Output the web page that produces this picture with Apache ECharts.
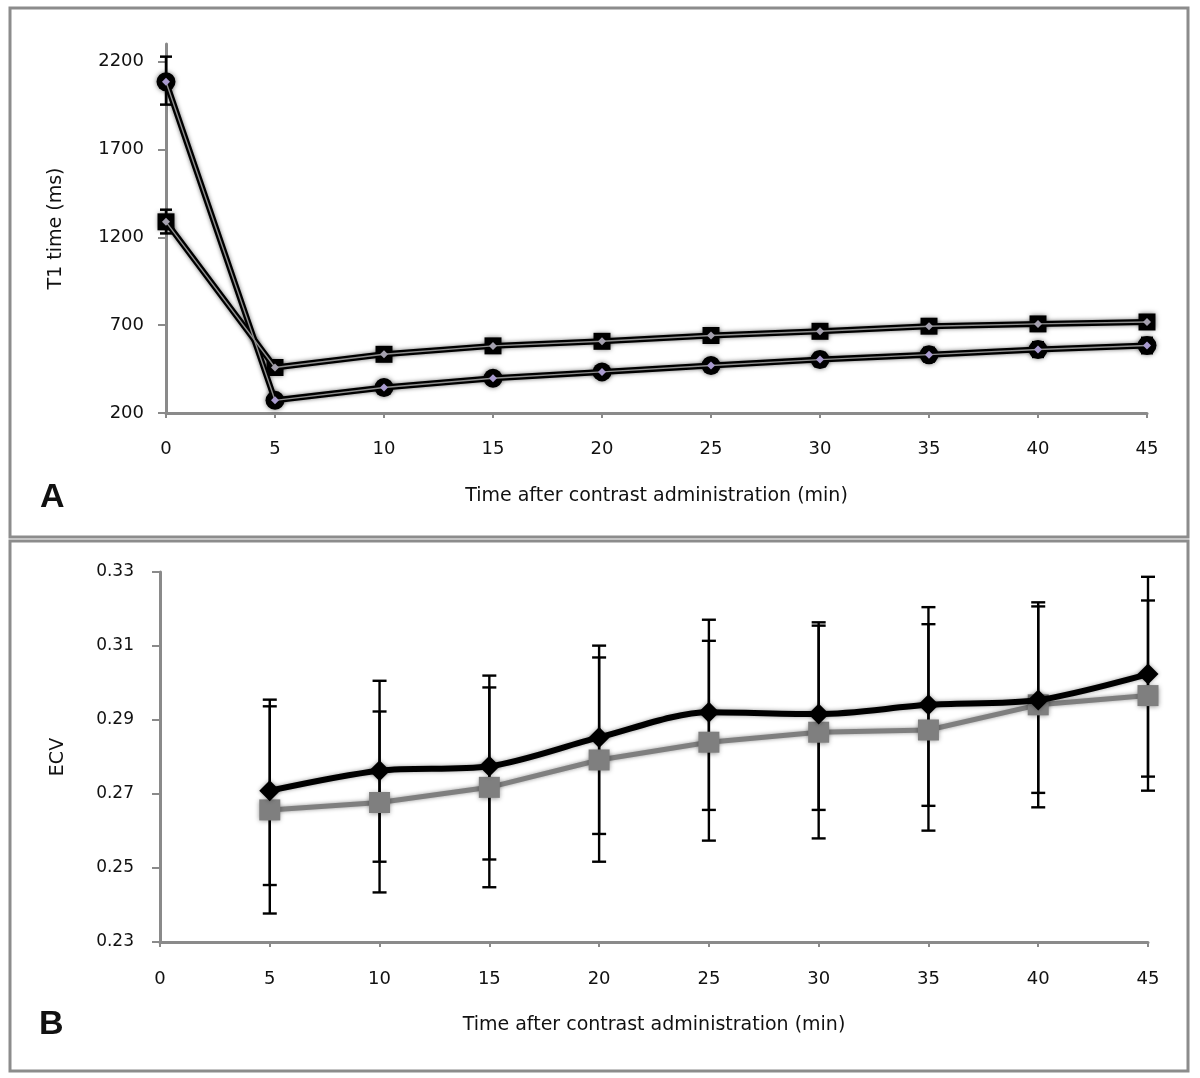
<!DOCTYPE html>
<html><head><meta charset="utf-8">
<script src="https://cdn.jsdelivr.net/npm/echarts@6/dist/echarts.min.js"></script>
<style>html,body{margin:0;padding:0;background:#fff}#c{width:1200px;height:1078px}</style>
</head><body><div id="c"></div>
<script>
// Panel A: T1 time (ms)
const timeA = [0, 5, 10, 15, 20, 25, 30, 35, 40, 45];
const t1Blood = [2085, 272, 345, 398, 434, 470, 504, 532, 561, 584];
const t1BloodLow = [1955, 245, 318, 368, 402, 435, 466, 493, 519, 540];
const t1BloodHigh = [2228, 300, 372, 428, 466, 505, 542, 571, 603, 628];
const t1Myo = [1288, 459, 534, 582, 608, 641, 665, 694, 707, 718];
const t1MyoLow = [1222, 432, 507, 553, 578, 610, 633, 660, 672, 680];
const t1MyoHigh = [1357, 486, 561, 611, 638, 672, 697, 728, 742, 756];
const yTicksA = [200, 700, 1200, 1700, 2200];

// Panel B: ECV
const timeB = [5, 10, 15, 20, 25, 30, 35, 40, 45];
const ecvBlack = [0.2709, 0.2763, 0.2775, 0.2853, 0.2921, 0.2916, 0.2941, 0.2954, 0.3024];
const ecvBlackLow = [0.2454, 0.2517, 0.2523, 0.2592, 0.2657, 0.2657, 0.2668, 0.2703, 0.2747];
const ecvBlackHigh = [0.2955, 0.3006, 0.3020, 0.3101, 0.3171, 0.3164, 0.3205, 0.3207, 0.3287];
const ecvGray = [0.2657, 0.2677, 0.2718, 0.2792, 0.2840, 0.2867, 0.2873, 0.2941, 0.2966];
const ecvGrayLow = [0.2377, 0.2434, 0.2448, 0.2517, 0.2574, 0.2580, 0.2601, 0.2664, 0.2709];
const ecvGrayHigh = [0.2937, 0.2923, 0.2988, 0.3069, 0.3114, 0.3155, 0.3159, 0.3218, 0.3223];

const xTitle = 'Time after contrast administration (min)';
const FONT = 'DejaVu Sans';

const pairs = (xs, ys) => xs.map((x, i) => [x, ys[i]]);
const triples = (xs, lo, hi) => xs.map((x, i) => [x, lo[i], hi[i]]);

function errRender(cap, lw) {
  return function (params, api) {
    const x = api.value(0), lo = api.value(1), hi = api.value(2);
    const a = api.coord([x, lo]), b = api.coord([x, hi]);
    const st = { stroke: '#000', lineWidth: lw };
    return { type: 'group', children: [
      { type: 'line', shape: { x1: a[0], y1: a[1], x2: b[0], y2: b[1] }, style: st },
      { type: 'line', shape: { x1: a[0] - cap, y1: a[1], x2: a[0] + cap, y2: a[1] }, style: st },
      { type: 'line', shape: { x1: b[0] - cap, y1: b[1], x2: b[0] + cap, y2: b[1] }, style: st }
    ]};
  };
}

const axisLineStyle = { color: '#8a8a8a', width: 3 };
const labelStyle = { color: '#111', fontFamily: FONT, fontSize: 18 };
const nameStyle = { color: '#111', fontFamily: FONT, fontSize: 19 };

const chart = echarts.init(document.getElementById('c'), null, { renderer: 'canvas' });
chart.setOption({
  backgroundColor: '#fff',
  animation: false,
  graphic: [
    { type: 'rect', shape: { x: 10, y: 8, width: 1178, height: 529 }, style: { fill: 'none', stroke: '#8c8c8c', lineWidth: 3 } },
    { type: 'rect', shape: { x: 10, y: 541, width: 1178, height: 530 }, style: { fill: 'none', stroke: '#8c8c8c', lineWidth: 3 } },
    { type: 'text', left: 40, top: 481, style: { text: 'A', font: 'bold 34px "Liberation Sans"', fill: '#111' } },
    { type: 'text', left: 39, top: 1008, style: { text: 'B', font: 'bold 34px "Liberation Sans"', fill: '#111' } }
  ],
  grid: [
    { left: 166, top: 44, width: 981, height: 369 },
    { left: 160, top: 572, width: 988, height: 370 }
  ],
  xAxis: [
    { gridIndex: 0, type: 'value', min: 0, max: 45, interval: 5,
      axisLine: { lineStyle: axisLineStyle }, axisTick: { length: 5, lineStyle: { color: '#8a8a8a', width: 2 } },
      splitLine: { show: false }, axisLabel: Object.assign({ margin: 27 }, labelStyle),
      name: xTitle, nameLocation: 'middle', nameGap: 74, nameTextStyle: nameStyle },
    { gridIndex: 1, type: 'value', min: 0, max: 45, interval: 5,
      axisLine: { lineStyle: axisLineStyle }, axisTick: { length: 5, lineStyle: { color: '#8a8a8a', width: 2 } },
      splitLine: { show: false }, axisLabel: Object.assign({ margin: 28 }, labelStyle),
      name: xTitle, nameLocation: 'middle', nameGap: 74, nameTextStyle: nameStyle }
  ],
  yAxis: [
    { gridIndex: 0, type: 'value', min: 200, max: 2300,
      axisLine: { show: true, lineStyle: axisLineStyle },
      axisTick: { show: true, length: 8, customValues: yTicksA, lineStyle: { color: '#8a8a8a', width: 2 } },
      splitLine: { show: false },
      axisLabel: Object.assign({ margin: 22, customValues: yTicksA, formatter: v => String(v) }, labelStyle),
      name: 'T1 time (ms)', nameLocation: 'middle', nameGap: 100, nameTextStyle: nameStyle },
    { gridIndex: 1, type: 'value', min: 0.23, max: 0.33, interval: 0.02,
      axisLine: { show: true, lineStyle: axisLineStyle },
      axisTick: { show: true, length: 8, lineStyle: { color: '#8a8a8a', width: 2 } },
      splitLine: { show: false },
      axisLabel: Object.assign({ margin: 26, formatter: v => v.toFixed(2) }, labelStyle, { fontSize: 17 }),
      name: 'ECV', nameLocation: 'middle', nameGap: 92, nameTextStyle: nameStyle }
  ],
  series: [
    // Panel A error bars
    { type: 'custom', xAxisIndex: 0, yAxisIndex: 0, z: 1, renderItem: errRender(6, 2.5),
      encode: { x: 0, y: [1, 2] }, data: triples(timeA, t1BloodLow, t1BloodHigh) },
    { type: 'custom', xAxisIndex: 0, yAxisIndex: 0, z: 1, renderItem: errRender(6, 2.5),
      encode: { x: 0, y: [1, 2] }, data: triples(timeA, t1MyoLow, t1MyoHigh) },
    // Panel A lines (black with lighter inner stripe)
    { type: 'line', xAxisIndex: 0, yAxisIndex: 0, z: 2, data: pairs(timeA, t1Blood),
      symbol: 'circle', symbolSize: 19, itemStyle: { color: '#000', shadowBlur: 5, shadowColor: 'rgba(0,0,0,0.55)' },
      lineStyle: { color: '#000', width: 6, shadowBlur: 4, shadowColor: 'rgba(0,0,0,0.55)' } },
    { type: 'line', xAxisIndex: 0, yAxisIndex: 0, z: 2, data: pairs(timeA, t1Myo),
      symbol: 'rect', symbolSize: 17, itemStyle: { color: '#000', shadowBlur: 5, shadowColor: 'rgba(0,0,0,0.55)' },
      lineStyle: { color: '#000', width: 6, shadowBlur: 4, shadowColor: 'rgba(0,0,0,0.55)' } },
    { type: 'line', xAxisIndex: 0, yAxisIndex: 0, z: 3, data: pairs(timeA, t1Blood),
      symbol: 'diamond', symbolSize: 8, itemStyle: { color: '#a99bcf' },
      lineStyle: { color: '#8f8f8f', width: 1.4 } },
    { type: 'line', xAxisIndex: 0, yAxisIndex: 0, z: 3, data: pairs(timeA, t1Myo),
      symbol: 'diamond', symbolSize: 8, itemStyle: { color: '#a4a0ae' },
      lineStyle: { color: '#8f8f8f', width: 1.4 } },
    // Panel B error bars
    { type: 'custom', xAxisIndex: 1, yAxisIndex: 1, z: 1, renderItem: errRender(7, 2.4),
      encode: { x: 0, y: [1, 2] }, data: triples(timeB, ecvBlackLow, ecvBlackHigh) },
    { type: 'custom', xAxisIndex: 1, yAxisIndex: 1, z: 1, renderItem: errRender(7, 2.4),
      encode: { x: 0, y: [1, 2] }, data: triples(timeB, ecvGrayLow, ecvGrayHigh) },
    // Panel B lines
    { type: 'line', xAxisIndex: 1, yAxisIndex: 1, z: 3, data: pairs(timeB, ecvGray),
      symbol: 'rect', symbolSize: 21,
      itemStyle: { color: '#7f7f7f', shadowBlur: 5, shadowColor: 'rgba(0,0,0,0.45)', shadowOffsetY: 1 },
      lineStyle: { color: '#7f7f7f', width: 5, shadowBlur: 4, shadowColor: 'rgba(0,0,0,0.4)' } },
    { type: 'line', xAxisIndex: 1, yAxisIndex: 1, z: 4, data: pairs(timeB, ecvBlack), smooth: 0.3,
      symbol: 'diamond', symbolSize: 21,
      itemStyle: { color: '#000', shadowBlur: 4, shadowColor: 'rgba(0,0,0,0.4)' },
      lineStyle: { color: '#000', width: 6, shadowBlur: 4, shadowColor: 'rgba(0,0,0,0.4)' } }
  ]
});
</script></body></html>
